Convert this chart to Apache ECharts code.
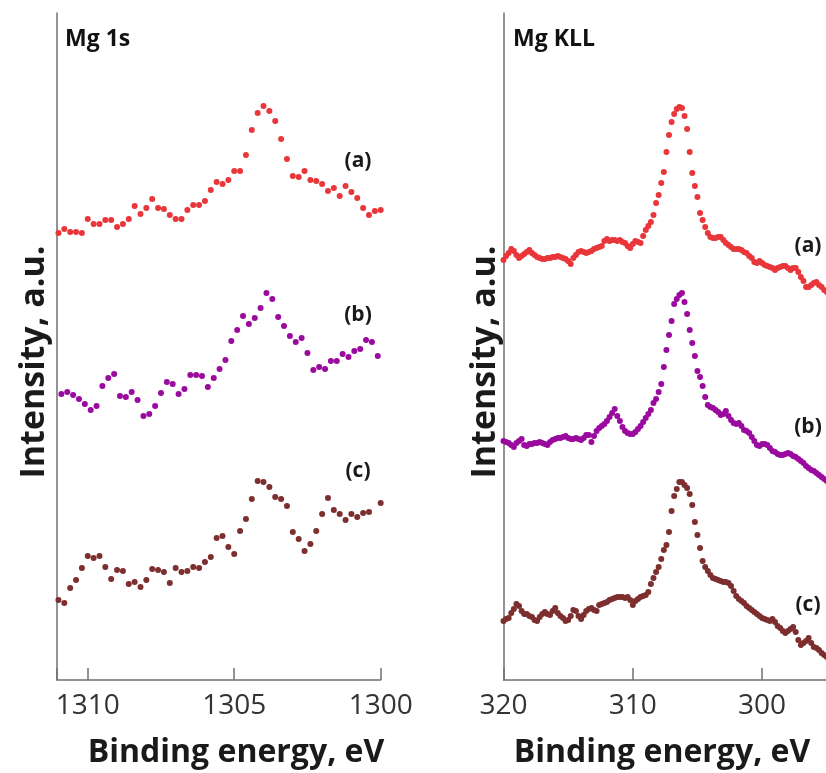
<!DOCTYPE html>
<html><head><meta charset="utf-8">
<script src="https://cdn.jsdelivr.net/npm/echarts@6/dist/echarts.min.js"></script>
<style>html,body{margin:0;padding:0;background:#fff}#c{width:826px;height:773px}</style>
</head><body><div id="c"></div>
<script>
// ---- Mg 1s panel (energy grid: start, step in eV) ----
const mg1sStartAC = 1311.0, mg1sStartB = 1310.9, mg1sStep = -0.2;
const mg1sA = [447,451,448,448,447,461,456,456,460,460,453,456,461,474,466,472,481,472,471,465,461,461,470,475,475,479,490,498,496,500,509,509,525,550,567,574,569,559,541,521,504,503,509,500,499,496,489,492,484,494,488,482,472,465,469,470];
const mg1sB = [286,288,285,281,276,270,274,294,302,306,284,283,288,280,264,266,274,287,298,296,286,291,305,305,304,293,302,311,320,339,350,364,356,362,372,387,381,363,354,344,338,342,327,310,313,311,319,319,326,323,329,331,340,338,324];
const mg1sC = [80,77,92,100,112,124,122,124,113,101,110,109,96,98,93,100,111,110,108,97,112,108,109,113,112,118,123,142,144,133,126,149,161,181,199,198,193,183,181,174,148,141,129,136,149,166,182,170,166,160,166,163,167,168,null,177];
// ---- Mg KLL panel ----
const kllStart = 320, kllStep = -0.2;
const kllA = [420,424,427,431,429,425,422,424,426,428,
430,427,425,423,422,421,421,422,422,423,
423,424,423,422,421,419,416,422,425,428,
429,428,427,428,429,431,432,433,434,439,
441,439,440,440,439,440,438,437,434,432,
436,439,438,437,444,450,454,458,465,477,
485,497,508,528,545,558,566,571,573,572,
564,551,528,507,494,483,467,460,453,447,
443,442,442,443,443,440,437,435,433,431,
431,431,430,428,427,424,422,418,417,419,
417,415,414,413,412,410,412,413,414,414,
412,410,412,412,408,403,399,393,393,395,
397,398,395,393,390,388];
const kllB = [239,238,237,235,233,237,239,241,235,234,
236,236,237,237,238,237,236,235,238,240,
241,242,242,243,244,242,241,241,242,241,
240,242,245,245,238,244,249,252,254,256,
259,263,267,271,264,259,253,249,247,246,
246,248,251,254,258,262,266,270,277,281,
288,296,313,330,345,359,376,381,385,387,
378,366,350,337,324,309,303,294,283,275,
273,272,270,268,265,266,269,264,260,257,
256,257,254,250,249,247,243,239,235,234,
236,236,235,232,229,228,226,225,225,226,
227,226,224,223,221,219,217,214,212,210,
209,207,205,203,201,199];
const kllC = [59,61,62,67,71,76,74,69,66,66,
64,63,60,59,63,66,68,66,65,69,
72,67,64,62,59,60,64,70,69,64,
61,65,69,71,72,70,69,75,76,77,
78,80,81,82,83,83,83,82,83,80,
75,79,81,83,84,85,88,96,102,108,
113,121,130,135,148,169,184,191,198,198,
195,192,186,175,158,145,132,119,113,109,
105,102,101,100,99,98,98,97,94,89,
84,81,79,77,74,72,70,68,66,64,
62,61,60,59,61,58,54,52,49,47,
49,51,53,48,40,35,37,39,42,37,
33,32,30,27,25,23];
const panelTitles = ['Mg 1s', 'Mg KLL'];
const seriesLabels = ['(a)', '(b)', '(c)'];
const xTitle = 'Binding energy, eV';
const yTitle = 'Intensity, a.u.';

const colors = ['#e8363a', '#9a0a9e', '#7d2e2e'];
function pairs(start, step, vals) {
  return vals.map((v, i) => [+(start + step * i).toFixed(2), v]);
}
const axisCol = '#707070';
const font = '"Open Sans", "DejaVu Sans", sans-serif';

function xAxis(gi, min, max, interval) {
  return {
    type: 'value', gridIndex: gi, min: min, max: max, interval: interval, inverse: true,
    axisLine: { show: true, lineStyle: { color: axisCol, width: 1.5 } },
    axisTick: { show: true, inside: true, length: 12, lineStyle: { color: axisCol, width: 1.5 } },
    axisLabel: { show: true, margin: 12, fontSize: 28, fontFamily: font, color: '#333',
      formatter: v => (Math.abs(v % interval) < 1e-6 ? String(v) : '') ,
      showMinLabel: true, showMaxLabel: true, hideOverlap: false },
    splitLine: { show: false }
  };
}
function yAxis(gi) {
  return {
    type: 'value', gridIndex: gi, min: 0, max: 667,
    axisLine: { show: true, onZero: false, lineStyle: { color: axisCol, width: 1.5 } },
    axisTick: { show: false }, axisLabel: { show: false }, splitLine: { show: false }
  };
}
function sc(gi, data, color) {
  return { type: 'scatter', xAxisIndex: gi, yAxisIndex: gi, data: data, symbolSize: 6,
    itemStyle: { color: color, opacity: 1 }, silent: true, animation: false };
}
function txt(x, y, text, size, opts) {
  return Object.assign({ type: 'text', x: x, y: y, silent: true,
    style: { text: text, font: 'bold ' + size + 'px ' + font, fill: '#1a1a1a',
      textAlign: 'center', textVerticalAlign: 'middle' } }, opts || {});
}

const chart = echarts.init(document.getElementById('c'), null, { renderer: 'canvas' });
chart.setOption({
  animation: false,
  backgroundColor: '#fff',
  grid: [
    { left: 57, top: 13, width: 323.7, height: 667, containLabel: false, outerBoundsMode: 'none' },
    { left: 503.5, top: 13, width: 387.9, height: 667, containLabel: false, outerBoundsMode: 'none' }
  ],
  xAxis: [xAxis(0, 1300, 1311.05, 5), xAxis(1, 290, 320, 10)],
  yAxis: [yAxis(0), yAxis(1)],
  series: [
    sc(0, pairs(mg1sStartAC, mg1sStep, mg1sA), colors[0]),
    sc(0, pairs(mg1sStartB, mg1sStep, mg1sB), colors[1]),
    sc(0, pairs(mg1sStartAC, mg1sStep, mg1sC), colors[2]),
    sc(1, pairs(kllStart, kllStep, kllA), colors[0]),
    sc(1, pairs(kllStart, kllStep, kllB), colors[1]),
    sc(1, pairs(kllStart, kllStep, kllC), colors[2])
  ],
  graphic: [
    txt(65, 39, panelTitles[0], 23, { style: { text: panelTitles[0], font: 'bold 23px ' + font, fill: '#111', textAlign: 'left', textVerticalAlign: 'middle' } }),
    txt(513, 39, panelTitles[1], 23, { style: { text: panelTitles[1], font: 'bold 23px ' + font, fill: '#111', textAlign: 'left', textVerticalAlign: 'middle' } }),
    txt(358, 161, seriesLabels[0], 21),
    txt(358, 315, seriesLabels[1], 21),
    txt(358, 471, seriesLabels[2], 21),
    txt(808, 246, seriesLabels[0], 21),
    txt(808, 427, seriesLabels[1], 21),
    txt(808, 605, seriesLabels[2], 21),
    txt(236, 753, xTitle, 32),
    txt(662, 753, xTitle, 32),
    txt(34, 362, yTitle, 34, { rotation: Math.PI / 2 }),
    txt(485, 362, yTitle, 34, { rotation: Math.PI / 2 })
  ]
});
</script></body></html>
